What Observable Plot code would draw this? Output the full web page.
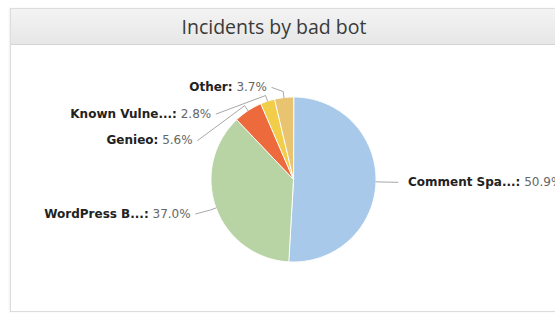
<!DOCTYPE html>
<html>
<head>
<meta charset="utf-8">
<script src="https://cdn.jsdelivr.net/npm/d3@7"></script>
<script src="https://cdn.jsdelivr.net/npm/@observablehq/plot@0.6"></script>
<style>
  html, body { margin: 0; padding: 0; background: #fff; width: 555px; height: 313px; overflow: hidden; }
  #panel { position: absolute; left: 10px; top: 8px; width: 580px; height: 302px; border: 1px solid #dcdcdc; box-shadow: -1px 0 2px rgba(0,0,0,0.06); background: #fff; }
  #header { position: absolute; left: 0; top: 0; width: 100%; height: 35px; background: linear-gradient(#f3f3f3, #e7e7e7); border-bottom: 1px solid #d4d4d4; }
  #title { position: absolute; left: 0; top: 7px; width: 526px; text-align: center; font-family: "Open Sans", sans-serif; font-size: 19.5px; color: #3a3a3a; line-height: 22px; }
  #chart { position: absolute; left: 0; top: 44px; }
</style>
</head>
<body>
<div id="panel"><div id="header"><div id="title">Incidents by bad bot</div></div></div>
<div id="chart"></div>
<script>
// ---- data ----
const categories = ["Comment Spa...", "WordPress B...", "Genieo", "Known Vulne...", "Other"];
const shares = [50.9, 37.0, 5.6, 2.8, 3.7];
const colors = ["#a8c9ea", "#b8d3a4", "#ec6a3c", "#f2cd4a", "#e8c470"];

// ---- layout ----
const W = 555, H = 269;
const cx = 293, cy = 135, r = 82.5;
const labelFont = "DejaVu Sans";
const fontSize = 12;

const total = d3.sum(shares);
const pt = (a, rad) => [cx + rad * Math.sin(a), cy - rad * Math.cos(a)];

// slice polygons
let acc = 0;
const slices = categories.map((name, i) => {
  const a0 = acc / total * 2 * Math.PI;
  acc += shares[i];
  const a1 = acc / total * 2 * Math.PI;
  return {name, value: shares[i], a0, a1, mid: (a0 + a1) / 2};
});
const polyPts = [];
for (const s of slices) {
  polyPts.push({name: s.name, x: cx, y: cy});
  const n = Math.max(2, Math.ceil((s.a1 - s.a0) / (Math.PI / 180)));
  for (let k = 0; k <= n; k++) {
    const a = s.a0 + (s.a1 - s.a0) * k / n;
    const [x, y] = pt(a, r);
    polyPts.push({name: s.name, x, y});
  }
}

// label placement (Highcharts-like)
const Ry = 100, D = 92.5, minTop = 43, spacing = 26.5;
const labels = slices.map(s => ({...s, left: s.mid > Math.PI, ny: cy - Ry * Math.cos(s.mid)}));
const leftL = labels.filter(d => d.left).sort((a, b) => a.ny - b.ny);
let prev = -Infinity;
for (const d of leftL) { d.y = Math.max(d.ny, prev + spacing, minTop); prev = d.y; }
const rightL = labels.filter(d => !d.left).sort((a, b) => a.ny - b.ny);
prev = -Infinity;
for (const d of rightL) { d.y = Math.max(d.ny, prev + spacing, minTop); prev = d.y; }

const ctx = document.createElement("canvas").getContext("2d");
const measure = (t, w) => { ctx.font = `${w} ${fontSize}px "${labelFont}"`; return ctx.measureText(t).width; };

const nameTexts = [], valueTexts = [], connPts = [];
for (const d of labels) {
  const dy = d.y - cy;
  const dx = Math.sqrt(Math.max(0, D * D - dy * dy));
  const nameStr = d.name + ":";
  const valStr = " " + d.value.toFixed(1) + "%";
  let sx;
  if (d.left) {
    const xEnd = cx - dx - 17;
    const vw = measure(valStr, "normal");
    valueTexts.push({x: xEnd, y: d.y, t: valStr, anchor: "end"});
    nameTexts.push({x: xEnd - vw, y: d.y, t: nameStr, anchor: "end"});
    sx = xEnd + 5;
  } else {
    const xStart = cx + dx + 22;
    const nw = measure(nameStr, "bold");
    nameTexts.push({x: xStart, y: d.y, t: nameStr, anchor: "start"});
    valueTexts.push({x: xStart + nw, y: d.y, t: valStr, anchor: "start"});
    sx = xStart - 10;
  }
  const [mx, my] = pt(d.mid, r + 6);
  const [ex, ey] = pt(d.mid, r);
  connPts.push({name: d.name, x: sx, y: d.y}, {name: d.name, x: mx, y: my}, {name: d.name, x: ex, y: ey});
}

const leftNames = nameTexts.filter(d => d.anchor === "end");
const rightNames = nameTexts.filter(d => d.anchor === "start");
const leftVals = valueTexts.filter(d => d.anchor === "end");
const rightVals = valueTexts.filter(d => d.anchor === "start");

const chart = Plot.plot({
  width: W, height: H,
  margin: 0,
  x: {domain: [0, W], range: [0, W], axis: null},
  y: {domain: [0, H], range: [0, H], axis: null},
  color: {domain: categories, range: colors},
  style: {fontFamily: labelFont, overflow: "visible"},
  marks: [
    Plot.line(polyPts, {x: "x", y: "y", z: "name", fill: "name", stroke: "#fff", strokeWidth: 1, curve: "linear-closed", strokeLinejoin: "round"}),
    Plot.line(connPts, {x: "x", y: "y", z: "name", stroke: "#a8a8a8", strokeWidth: 1, curve: "linear"}),
    Plot.text(leftNames, {x: "x", y: "y", text: "t", textAnchor: "end", fontWeight: "bold", fontSize, fill: "#222"}),
    Plot.text(rightNames, {x: "x", y: "y", text: "t", textAnchor: "start", fontWeight: "bold", fontSize, fill: "#222"}),
    Plot.text(leftVals, {x: "x", y: "y", text: "t", textAnchor: "end", fontSize, fill: "#666"}),
    Plot.text(rightVals, {x: "x", y: "y", text: "t", textAnchor: "start", fontSize, fill: "#666"})
  ]
});
document.getElementById("chart").appendChild(chart);
</script>
</body>
</html>
